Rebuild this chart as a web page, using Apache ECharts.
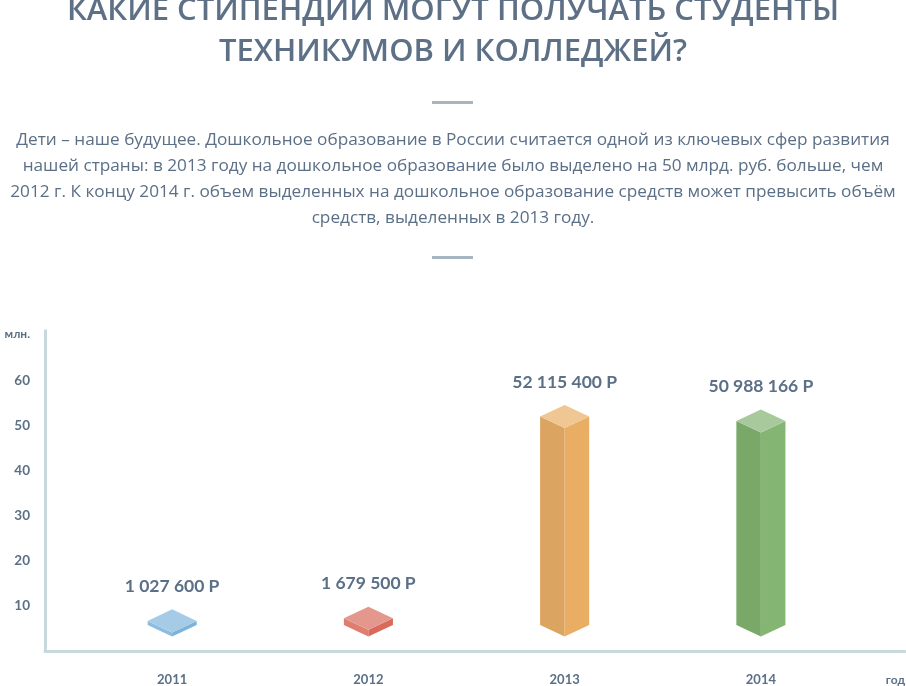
<!DOCTYPE html>
<html>
<head>
<meta charset="utf-8">
<script src="https://cdn.jsdelivr.net/npm/echarts@6/dist/echarts.min.js"></script>
<style>
html,body{margin:0;padding:0;background:#fff;}
#chart{width:906px;height:686px;}
</style>
</head>
<body>
<div id="chart"></div>
<script>
// ---- data ----
const categories = ['2011', '2012', '2013', '2014'];
const valuesRub = [1027600, 1679500, 52115400, 50988166];
const yTickValues = [10, 20, 30, 40, 50, 60];
const titleLines = ['КАКИЕ СТИПЕНДИИ МОГУТ ПОЛУЧАТЬ СТУДЕНТЫ', 'ТЕХНИКУМОВ И КОЛЛЕДЖЕЙ?'];
const textLines = [
  'Дети – наше будущее. Дошкольное образование в России считается одной из ключевых сфер развития',
  'нашей страны: в 2013 году на дошкольное образование было выделено на 50 млрд. руб. больше, чем',
  '2012 г. К концу 2014 г. объем выделенных на дошкольное образование средств может превысить объём',
  'средств, выделенных в 2013 году.'
];
const yUnit = 'млн.';
const xUnit = 'год';

// ---- styles ----
const palette = [
  {top: '#a5cbe6', left: '#8cbde1', right: '#7db2da'},
  {top: '#e4978c', left: '#de7d70', right: '#d96a5b'},
  {top: '#f0c692', left: '#dba461', right: '#e9ad64'},
  {top: '#a7c99b', left: '#79a869', right: '#84b573'}
];
const textColor = '#5b6f86';
const axisColor = '#c8d9de';
const bodyFont = 'Lato, "Open Sans", sans-serif';

function fmtRub(v) {
  return String(v).replace(/\B(?=(\d{3})+(?!\d))/g, ' ') + ' Р';
}

const chart = echarts.init(document.getElementById('chart'));

function renderItem(params, api) {
  const idx = api.value(0);
  const v = api.value(1);
  const top = api.coord([idx, v]);
  const base = api.coord([idx, 0]);
  const bw = api.size([1, 0])[0];
  const hw = bw * 0.125;
  const dy = hw * 0.47;
  const c = palette[params.dataIndex];
  const cx = top[0], yt = top[1], yb = base[1];
  return {
    type: 'group',
    children: [
      {type: 'polygon', shape: {points: [[cx - hw, yt], [cx, yt + dy], [cx, yb + dy], [cx - hw, yb]]}, style: {fill: c.left}},
      {type: 'polygon', shape: {points: [[cx, yt + dy], [cx + hw, yt], [cx + hw, yb], [cx, yb + dy]]}, style: {fill: c.right}},
      {type: 'polygon', shape: {points: [[cx, yt - dy], [cx + hw, yt], [cx, yt + dy], [cx - hw, yt]]}, style: {fill: c.top}},
      {type: 'text', x: cx, y: yt - dy - 23, style: {
        text: fmtRub(valuesRub[params.dataIndex]), fill: textColor,
        font: 'bold 17.5px ' + bodyFont, textAlign: 'center', textVerticalAlign: 'middle'
      }}
    ]
  };
}

const graphics = [];
titleLines.forEach((t, i) => {
  graphics.push({type: 'text', x: 453, y: 11 + i * 41, style: {
    text: t, fill: '#5d7086', font: '600 31px "Open Sans", sans-serif',
    textAlign: 'center', textVerticalAlign: 'middle'
  }});
});
graphics.push({type: 'rect', shape: {x: 432, y: 101, width: 41, height: 3}, style: {fill: '#a7b5c0'}});
graphics.push({type: 'rect', shape: {x: 432, y: 256, width: 41, height: 3}, style: {fill: '#a7b5c0'}});
textLines.forEach((t, i) => {
  graphics.push({type: 'text', x: 453, y: 140 + i * 26, style: {
    text: t, fill: textColor, font: '17.2px "Open Sans", sans-serif',
    textAlign: 'center', textVerticalAlign: 'middle'
  }});
});
graphics.push({type: 'text', x: 30, y: 334, style: {text: yUnit, fill: textColor, font: 'bold 12px ' + bodyFont, textAlign: 'right', textVerticalAlign: 'middle'}});
graphics.push({type: 'text', x: 905, y: 680, style: {text: xUnit, fill: textColor, font: 'bold 12px ' + bodyFont, textAlign: 'right', textVerticalAlign: 'middle'}});

const option = {
  backgroundColor: '#ffffff',
  animation: false,
  grid: [
    {left: 45, right: 1, top: 331, bottom: 35},
    {left: 74, right: 47, top: 345, bottom: 61}
  ],
  xAxis: [
    {gridIndex: 0, type: 'value', min: 0, max: 1, offset: 3,
      axisLine: {show: true, lineStyle: {color: axisColor, width: 3}},
      axisTick: {show: false}, axisLabel: {show: false}, splitLine: {show: false}},
    {gridIndex: 1, type: 'category', data: categories,
      axisLine: {show: false}, axisTick: {show: false}, splitLine: {show: false},
      axisLabel: {margin: 48, color: textColor, fontFamily: bodyFont, fontWeight: 'bold', fontSize: 13}}
  ],
  yAxis: [
    {gridIndex: 0, type: 'value', min: 0, max: 71.1, interval: 10,
      axisLine: {show: true, lineStyle: {color: axisColor, width: 3, cap: 'square'}},
      axisTick: {show: false}, splitLine: {show: false},
      axisLabel: {margin: 15, color: textColor, fontFamily: bodyFont, fontWeight: 'bold', fontSize: 13.5,
        formatter: v => (yTickValues.indexOf(v) >= 0 ? String(v) : '')}},
    {gridIndex: 1, type: 'value', min: 0, max: 70, show: false}
  ],
  graphic: graphics,
  series: [{
    type: 'custom',
    xAxisIndex: 1,
    yAxisIndex: 1,
    renderItem: renderItem,
    data: valuesRub.map((v, i) => [i, v / 1e6])
  }]
};
chart.setOption(option);
</script>
</body>
</html>
